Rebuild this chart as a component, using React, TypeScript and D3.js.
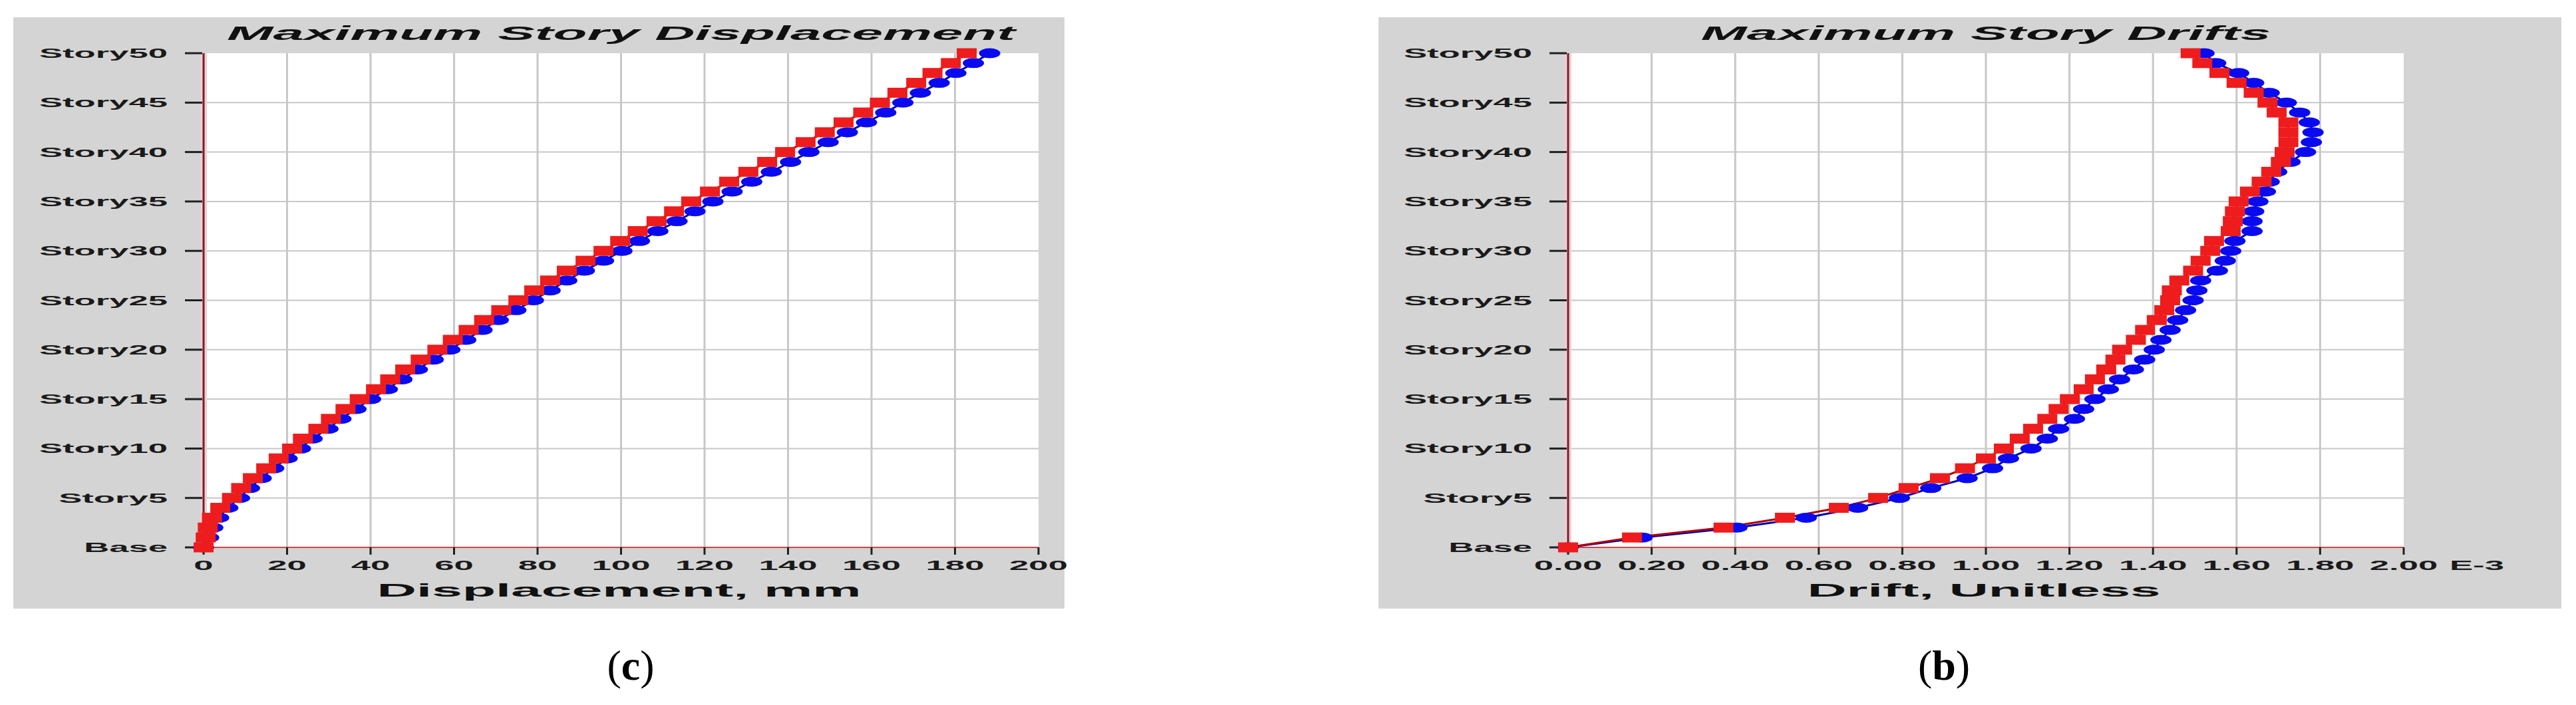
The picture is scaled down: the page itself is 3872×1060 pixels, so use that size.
import React from "react";
import * as d3 from "d3";

// story index 0 = Base ... 50 = Story50
const storyLevels = d3.range(0, 51);
const storyTicks = [0, 5, 10, 15, 20, 25, 30, 35, 40, 45, 50];
const storyTickLabels = ["Base", "Story5", "Story10", "Story15", "Story20", "Story25", "Story30", "Story35", "Story40", "Story45", "Story50"];

// Maximum Story Displacement (mm)
const dispTicks = [0, 20, 40, 60, 80, 100, 120, 140, 160, 180, 200];
const dispTickLabels = ["0", "20", "40", "60", "80", "100", "120", "140", "160", "180", "200"];
const dispRed = [
  0, 0.5, 1.0, 2.0, 4.0, 6.8, 9.0, 11.8, 15.0, 18.0, 21.2,
  23.8, 27.5, 30.5, 34.0, 37.4, 41.3, 44.7, 48.3, 52.0, 56.0,
  59.7, 63.5, 67.2, 71.3, 75.4, 79.2, 83.0, 87.0, 91.5, 95.8,
  99.8, 104.0, 108.5, 112.7, 116.8, 121.3, 125.9, 130.5, 135.0, 139.3,
  144.2, 148.8, 153.3, 158.0, 162.0, 166.2, 170.7, 174.6, 179.0, 182.8,
];
const dispBlue = [
  0, 1.2, 2.2, 3.6, 5.8, 8.6, 11.0, 13.8, 16.8, 20.0, 23.2,
  26.0, 29.8, 32.9, 36.5, 40.0, 44.0, 47.5, 51.2, 55.0, 59.0,
  62.8, 66.7, 70.6, 74.8, 79.0, 83.0, 87.0, 91.2, 95.8, 100.2,
  104.4, 108.8, 113.4, 117.7, 122.0, 126.6, 131.3, 136.0, 140.6, 145.0,
  149.6, 154.2, 158.8, 163.4, 167.5, 171.7, 176.2, 180.2, 184.4, 188.3,
];

// Maximum Story Drifts (E-3)
const driftTicks = [0, 0.2, 0.4, 0.6, 0.8, 1.0, 1.2, 1.4, 1.6, 1.8, 2.0];
const driftTickLabels = ["0.00", "0.20", "0.40", "0.60", "0.80", "1.00", "1.20", "1.40", "1.60", "1.80", "2.00"];
const driftRed = [
  0, 0.153, 0.372, 0.519, 0.648, 0.742, 0.815, 0.89, 0.95, 1.0, 1.043,
  1.081, 1.113, 1.147, 1.174, 1.201, 1.234, 1.261, 1.288, 1.31, 1.326,
  1.359, 1.381, 1.409, 1.427, 1.441, 1.445, 1.463, 1.496, 1.514, 1.537,
  1.546, 1.586, 1.591, 1.596, 1.605, 1.632, 1.66, 1.683, 1.706, 1.715,
  1.724, 1.724, 1.724, 1.696, 1.674, 1.641, 1.6, 1.559, 1.518, 1.49,
];
const driftBlue = [
  0, 0.177, 0.404, 0.57, 0.693, 0.793, 0.868, 0.955, 1.016, 1.054, 1.108,
  1.147, 1.174, 1.212, 1.234, 1.261, 1.293, 1.32, 1.353, 1.38, 1.403,
  1.419, 1.441, 1.459, 1.478, 1.496, 1.505, 1.514, 1.554, 1.573, 1.586,
  1.596, 1.637, 1.637, 1.641, 1.651, 1.669, 1.678, 1.696, 1.728, 1.765,
  1.779, 1.783, 1.774, 1.751, 1.719, 1.678, 1.641, 1.605, 1.55, 1.522,
];

const FONT = "'Liberation Sans', Arial, sans-serif";
const SX = 2.7; // the figure is stretched horizontally

const Panel = ({ bx0, bx1, px0, px1, domain, ticks, tickLabels, extraLabel, title, titleW, axisTitle, axisTitleW, red, blue }) => {
  const top = 80;
  const bottom = 823;
  const x = d3.scaleLinear().domain(domain).range([px0, px1]);
  const y = d3.scaleLinear().domain([0, 50]).range([bottom, top]);
  const line = (vals) =>
    d3.line<number>().x((d) => x(d)).y((_, i) => y(storyLevels[i]))(vals);
  const cx = (px0 + px1) / 2;

  return (
    <g>
      <rect x={bx0} y={26} width={bx1 - bx0} height={889} fill="#d4d4d4" />
      <rect x={px0} y={top} width={px1 - px0} height={bottom - top} fill="#ffffff" />

      {/* grid */}
      {ticks.slice(1, -1).map((t) => (
        <line key={"gx" + t} x1={x(t)} x2={x(t)} y1={top} y2={bottom} stroke="#c8c8c8" strokeWidth={3} />
      ))}
      {storyTicks.slice(1, -1).map((s) => (
        <line key={"gy" + s} x1={px0} x2={px1} y1={y(s)} y2={y(s)} stroke="#c8c8c8" strokeWidth={2} />
      ))}

      {/* axes */}
      <line x1={px0} x2={px1} y1={bottom} y2={bottom} stroke="#c84848" strokeWidth={2} />
      <line x1={px0} x2={px0} y1={top} y2={bottom} stroke="#ecd0d8" strokeWidth={10} />
      <line x1={px0} x2={px0} y1={top} y2={bottom} stroke="#7a2020" strokeWidth={3} />

      {/* y ticks + labels */}
      {storyTicks.map((s, i) => (
        <g key={"yt" + s}>
          <line x1={px0 - 28} x2={px0 - 2} y1={y(s)} y2={y(s)} stroke="#202020" strokeWidth={3} />
          <text
            transform={`translate(${px0 - 54},${y(s) + 7}) scale(${SX},1)`}
            textAnchor="end"
            fontFamily={FONT}
            fontWeight="bold"
            fontSize={19.5}
            fill="#1a1a1a"
          >
            {storyTickLabels[i]}
          </text>
        </g>
      ))}

      {/* x ticks + labels */}
      {ticks.map((t, i) => (
        <g key={"xt" + t}>
          <line x1={x(t)} x2={x(t)} y1={bottom} y2={bottom + 11} stroke="#202020" strokeWidth={3} />
          <text
            transform={`translate(${x(t)},857) scale(${SX},1)`}
            textAnchor="middle"
            fontFamily={FONT}
            fontWeight="bold"
            fontSize={19.5}
            fill="#1a1a1a"
          >
            {tickLabels[i]}
          </text>
        </g>
      ))}
      {extraLabel && (
        <text
          transform={`translate(${px1 + 69},857) scale(${SX},1)`}
          textAnchor="start"
          fontFamily={FONT}
          fontWeight="bold"
          fontSize={19.5}
          fill="#1a1a1a"
        >
          {extraLabel}
        </text>
      )}

      {/* series */}
      <path d={line(blue)} fill="none" stroke="#0000b0" strokeWidth={3} />
      <path d={line(red)} fill="none" stroke="#b00000" strokeWidth={3} />
      {blue.map((v, i) => (
        <ellipse key={"b" + i} cx={x(v)} cy={y(storyLevels[i])} rx={16} ry={7.5} fill="#0a0af0" />
      ))}
      {red.map((v, i) => (
        <rect key={"r" + i} x={x(v) - 15} y={y(storyLevels[i]) - 7.5} width={30} height={15} fill="#ee1c1c" />
      ))}

      {/* titles */}
      <text
        x={cx}
        y={60}
        textAnchor="middle"
        textLength={titleW}
        lengthAdjust="spacingAndGlyphs"
        fontFamily={FONT}
        fontWeight="bold"
        fontStyle="italic"
        fontSize={29}
        fill="#111"
      >
        {title}
      </text>
      <text
        x={cx - 3}
        y={897}
        textAnchor="middle"
        textLength={axisTitleW}
        lengthAdjust="spacingAndGlyphs"
        fontFamily={FONT}
        fontWeight="bold"
        fontSize={27}
        fill="#111"
      >
        {axisTitle}
      </text>
    </g>
  );
};

export default function App() {
  return (
    <svg
      width={3872}
      height={1060}
      style={{ position: "absolute", left: 0, top: 0, background: "#ffffff" }}
    >
      <rect x={0} y={0} width={3872} height={1060} fill="#ffffff" />
      <Panel
        bx0={20}
        bx1={1600}
        px0={306}
        px1={1561}
        domain={[0, 200]}
        ticks={dispTicks}
        tickLabels={dispTickLabels}
        extraLabel={null}
        title="Maximum Story Displacement"
        titleW={1185}
        axisTitle="Displacement, mm"
        axisTitleW={728}
        red={dispRed}
        blue={dispBlue}
      />
      <Panel
        bx0={2072}
        bx1={3850}
        px0={2357}
        px1={3613}
        domain={[0, 2]}
        ticks={driftTicks}
        tickLabels={driftTickLabels}
        extraLabel="E-3"
        title="Maximum Story Drifts"
        titleW={857}
        axisTitle="Drift, Unitless"
        axisTitleW={531}
        red={driftRed}
        blue={driftBlue}
      />
      <text x={948} y={1022} textAnchor="middle" fontFamily="'Liberation Serif', 'Times New Roman', serif" fontSize={64} fill="#000">
        (<tspan fontWeight="bold">c</tspan>)
      </text>
      <text x={2922} y={1022} textAnchor="middle" fontFamily="'Liberation Serif', 'Times New Roman', serif" fontSize={64} fill="#000">
        (<tspan fontWeight="bold">b</tspan>)
      </text>
    </svg>
  );
}
